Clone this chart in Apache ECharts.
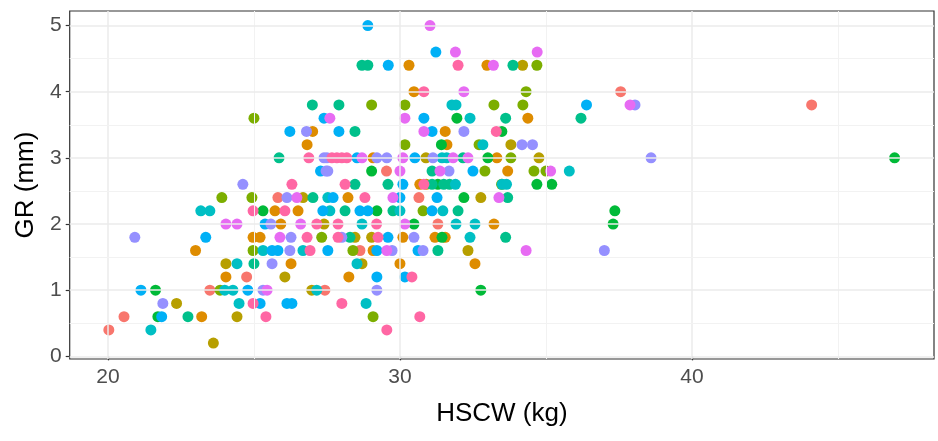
<!DOCTYPE html>
<html><head><meta charset="utf-8">
<script src="https://cdn.jsdelivr.net/npm/echarts@6/dist/echarts.min.js"></script>
<style>html,body{margin:0;padding:0;background:#fff}#c{width:938px;height:441px}</style>
</head><body><div id="c"></div>
<script>
// ---- data (HSCW kg, GR mm) per colour group ----
const grpRed = [[37.56,4.0],[44.1,3.8],[29.54,2.8],[25.82,2.4],[30.65,2.4],[31.3,2.0],[28.63,1.6],[24.75,1.2],[23.49,1.0],[27.43,1.0],[20.55,0.6],[20.03,0.4]];
const grpOrange = [[30.31,4.4],[32.98,4.4],[30.48,4.0],[34.38,3.6],[27.01,3.4],[31.55,3.4],[26.82,3.2],[31.61,3.2],[29.08,3.0],[33.32,3.0],[33.69,2.8],[30.68,2.6],[28.22,2.4],[25.72,2.2],[26.51,2.2],[25.92,2.0],[33.22,2.0],[24.97,1.8],[25.21,1.8],[30.1,1.8],[31.2,1.8],[31.55,1.8],[23.0,1.6],[29.08,1.6],[30.0,1.4],[32.57,1.4],[26.27,1.4],[24.04,1.2],[28.25,1.2],[23.21,0.6]];
const grpOlive = [[34.2,4.4],[30.89,3.0],[34.76,3.0],[33.8,3.2],[30.9,2.6],[26.68,2.4],[32.77,2.4],[27.4,2.0],[28.46,1.8],[29.03,1.8],[32.33,1.6],[28.7,1.4],[24.04,1.4],[26.06,1.2],[26.98,1.0],[22.35,0.8],[24.42,0.6],[23.61,0.2]];
const grpYellowGreen = [[34.69,4.4],[34.32,4.0],[29.03,3.8],[30.17,3.8],[33.22,3.8],[34.21,3.8],[25.0,3.6],[30.17,3.2],[32.71,3.2],[33.8,3.0],[32.91,2.8],[34.59,2.8],[35.0,2.8],[33.48,2.6],[23.9,2.4],[24.93,2.4],[30.79,2.2],[27.32,1.8],[24.97,1.6],[28.39,1.6],[23.84,1.0],[29.08,0.6]];
const grpGreen = [[31.95,3.6],[33.49,3.4],[31.42,3.2],[33.01,3.0],[29.03,2.8],[31.3,2.6],[34.69,2.6],[35.2,2.6],[32.19,2.4],[25.31,2.2],[29.21,2.2],[30.48,2.0],[31.44,1.8],[21.63,1.0],[21.71,0.6],[32.77,1.0],[37.36,2.2],[37.3,2.0],[46.94,3.0]];
const grpTealGreen = [[28.7,4.4],[28.9,4.4],[33.87,4.4],[27.0,3.8],[27.91,3.8],[33.62,3.6],[36.2,3.6],[28.46,3.4],[25.86,3.0],[32.16,3.0],[31.1,2.8],[28.46,2.6],[29.59,2.6],[31.1,2.6],[31.5,2.6],[31.7,2.6],[33.69,2.4],[27.02,2.4],[28.12,2.2],[29.76,2.2],[31.99,2.2],[28.29,1.8],[33.62,1.8],[31.3,1.6],[25.0,1.4],[22.74,0.6]];
const grpCyan = [[31.78,3.8],[31.92,3.8],[32.4,3.6],[32.84,3.2],[31.44,3.0],[31.6,3.0],[35.8,2.8],[33.5,2.6],[33.65,2.6],[31.9,2.6],[23.18,2.2],[23.49,2.2],[27.53,2.4],[27.6,2.2],[30.0,2.2],[31.47,2.2],[28.7,2.0],[31.92,2.0],[32.57,2.0],[32.4,1.8],[25.31,1.6],[26.68,1.6],[24.42,1.4],[28.53,1.4],[24.0,1.0],[24.28,1.0],[27.15,1.0],[28.84,0.8],[24.49,0.8],[21.47,0.4]];
const grpSky = [[28.9,5.0],[31.23,4.6],[29.6,4.4],[27.4,3.6],[30.82,3.6],[26.23,3.4],[27.91,3.4],[31.1,3.4],[28.53,3.0],[30.51,3.0],[27.28,2.8],[32.5,2.8],[30.1,2.6],[27.71,2.4],[30.0,2.4],[31.27,2.4],[28.63,2.2],[28.9,2.2],[31.1,2.2],[27.36,2.2],[25.38,2.0],[23.35,1.8],[29.59,1.8],[25.62,1.6],[25.82,1.6],[27.53,1.6],[29.21,1.6],[30.62,1.6],[29.21,1.2],[30.17,1.2],[21.13,1.0],[24.79,1.0],[21.84,0.6],[25.21,0.8],[26.13,0.8],[26.3,0.8],[36.39,3.8]];
const grpLavender = [[38.05,3.8],[38.6,3.0],[37.0,1.6],[26.8,3.4],[32.19,3.4],[27.4,3.0],[27.5,3.0],[29.21,3.0],[29.55,3.0],[31.13,3.0],[34.18,3.2],[34.54,3.2],[27.47,2.8],[27.53,2.8],[31.68,2.8],[24.62,2.6],[26.13,2.4],[25.58,2.0],[26.27,1.8],[28.01,1.8],[30.48,1.8],[26.23,1.6],[29.73,1.6],[30.79,1.6],[25.62,1.4],[29.21,1.0],[25.31,1.0],[20.92,1.8],[21.88,0.8]];
const grpMagenta = [[31.03,5.0],[31.9,4.6],[34.7,4.6],[33.2,4.4],[32.19,4.0],[37.88,3.8],[27.6,3.6],[30.17,3.6],[30.82,3.4],[28.7,3.0],[30.1,3.0],[31.82,3.0],[32.33,3.0],[30.0,2.8],[31.37,2.8],[35.16,2.8],[26.47,2.4],[29.76,2.4],[33.39,2.4],[24.04,2.0],[24.42,2.0],[26.6,2.0],[30.17,2.0],[25.89,1.8],[29.55,1.6],[34.32,1.6],[25.45,1.0]];
const grpPink = [[31.99,4.4],[30.82,4.0],[26.88,3.0],[27.67,3.0],[27.84,3.0],[28.01,3.0],[28.18,3.0],[33.3,3.4],[28.8,2.4],[26.3,2.6],[28.12,2.6],[30.82,2.6],[24.97,2.2],[26.06,2.2],[26.92,1.6],[27.15,2.0],[27.88,2.0],[29.2,2.0],[26.82,1.8],[27.88,1.8],[29.25,1.8],[30.41,1.2],[28.01,0.8],[24.97,0.8],[25.41,0.6],[30.68,0.6],[29.55,0.4]];

const xTicks = [20, 30, 40];
const xMinor = [25, 35, 45];
const yTicks = [0, 1, 2, 3, 4, 5];
const yMinor = [0.5, 1.5, 2.5, 3.5, 4.5];

const groups = [
  [grpRed, '#F8766D'], [grpOrange, '#DE8C00'], [grpOlive, '#B79F00'], [grpYellowGreen, '#7CAE00'],
  [grpGreen, '#00BA38'], [grpTealGreen, '#00C08B'], [grpCyan, '#00BFC4'], [grpSky, '#00B0F6'],
  [grpLavender, '#9590FF'], [grpMagenta, '#E76BF3'], [grpPink, '#FF67A4']
];

const chart = echarts.init(document.getElementById('c'), null, {renderer: 'canvas'});
const font = 'Liberation Sans, Arial, sans-serif';
const gridLines = [];
xTicks.forEach(v => gridLines.push({xAxis: v, lineStyle: {color: '#EBEBEB', width: 1.5, type: 'solid'}}));
xMinor.forEach(v => gridLines.push({xAxis: v, lineStyle: {color: '#F2F2F2', width: 1, type: 'solid'}}));
yTicks.forEach(v => gridLines.push({yAxis: v, lineStyle: {color: '#EBEBEB', width: 1.5, type: 'solid'}}));
yMinor.forEach(v => gridLines.push({yAxis: v, lineStyle: {color: '#F2F2F2', width: 1, type: 'solid'}}));

const series = [{
  type: 'scatter', data: [], silent: true, z: 1,
  markLine: {silent: true, symbol: ['none', 'none'], label: {show: false}, animation: false, data: gridLines}
}];
groups.forEach(([d, c]) => series.push({
  type: 'scatter', data: d, symbol: 'circle', symbolSize: 11, z: 3,
  itemStyle: {color: c, opacity: 1}, emphasis: {disabled: true}
}));

chart.setOption({
  animation: false,
  backgroundColor: '#fff',
  grid: {left: 69.7, right: 4, top: 11, bottom: 82, show: true, borderColor: '#333333', borderWidth: 1.2, backgroundColor: 'transparent'},
  xAxis: {
    type: 'value', min: 18.69, max: 48.29,
    name: 'HSCW (kg)', nameLocation: 'middle', nameGap: 42,
    nameTextStyle: {fontFamily: font, fontSize: 26, color: '#000'},
    axisLine: {show: false},
    axisTick: {show: true, length: 4, customValues: xTicks, lineStyle: {color: '#333', width: 1.2}},
    axisLabel: {customValues: xTicks, fontFamily: font, fontSize: 21, color: '#4D4D4D', margin: 8},
    splitLine: {show: false}
  },
  yAxis: {
    type: 'value', min: -0.04, max: 5.22,
    name: 'GR (mm)', nameLocation: 'middle', nameGap: 31,
    nameTextStyle: {fontFamily: font, fontSize: 26, color: '#000'},
    axisLine: {show: false},
    axisTick: {show: true, length: 4, customValues: yTicks, lineStyle: {color: '#333', width: 1.2}},
    axisLabel: {customValues: yTicks, fontFamily: font, fontSize: 21, color: '#4D4D4D', margin: 8},
    splitLine: {show: false}
  },
  series: series
});
</script></body></html>
